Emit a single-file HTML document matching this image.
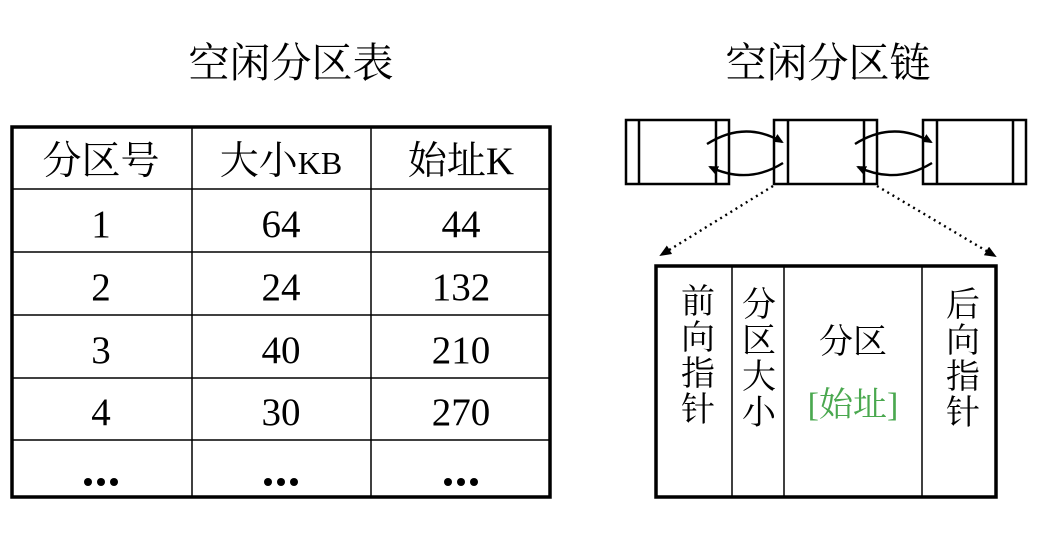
<!DOCTYPE html>
<html><head><meta charset="utf-8"><style>
html,body{margin:0;padding:0;background:#fff;}
svg{display:block;}
text{font-family:"Liberation Serif","Noto Serif CJK SC",serif;fill:#000;}
</style></head><body>
<svg width="1050" height="546" viewBox="0 0 1050 546" xmlns="http://www.w3.org/2000/svg">
<defs>
<marker id="ah" markerWidth="10" markerHeight="9" refX="8" refY="4.5" orient="auto" markerUnits="userSpaceOnUse"><path d="M0,0 L10,4.5 L0,9 z" fill="#000"/></marker>
<marker id="ah2" markerWidth="12" markerHeight="10" refX="10" refY="5" orient="auto" markerUnits="userSpaceOnUse"><path d="M0,0 L12,5 L0,10 z" fill="#000"/></marker>
</defs>
<text x="291" y="77" font-size="41" text-anchor="middle">空闲分区表</text>
<text x="828" y="77" font-size="41" text-anchor="middle">空闲分区链</text>

<g stroke="#000" fill="none">
<rect x="12" y="127" width="538" height="370" stroke-width="3.5"/>
<line x1="192" y1="127" x2="192" y2="497" stroke-width="1.5"/>
<line x1="371" y1="127" x2="371" y2="497" stroke-width="1.5"/>
<line x1="12" y1="189" x2="550" y2="189" stroke-width="1.5"/>
<line x1="12" y1="252" x2="550" y2="252" stroke-width="1.5"/>
<line x1="12" y1="315" x2="550" y2="315" stroke-width="1.5"/>
<line x1="12" y1="378" x2="550" y2="378" stroke-width="1.5"/>
<line x1="12" y1="440" x2="550" y2="440" stroke-width="1.5"/>
</g>
<g font-size="39" text-anchor="middle">
<text x="101" y="174">分区号</text>
<text x="281" y="174">大小<tspan font-size="32">KB</tspan></text>
<text x="461" y="174">始址K</text>
<text x="101" y="237">1</text><text x="281" y="237">64</text><text x="461" y="237">44</text>
<text x="101" y="300">2</text><text x="281" y="300">24</text><text x="461" y="300">132</text>
<text x="101" y="363">3</text><text x="281" y="363">40</text><text x="461" y="363">210</text>
<text x="101" y="425">4</text><text x="281" y="425">30</text><text x="461" y="425">270</text>
</g>
<g fill="#000">
<circle cx="88" cy="482" r="4"/><circle cx="101" cy="482" r="4"/><circle cx="114" cy="482" r="4"/>
<circle cx="268" cy="482" r="4"/><circle cx="281" cy="482" r="4"/><circle cx="294" cy="482" r="4"/>
<circle cx="448" cy="482" r="4"/><circle cx="461" cy="482" r="4"/><circle cx="474" cy="482" r="4"/>
</g>

<g stroke="#000" stroke-width="2.5" fill="none">
<rect x="626" y="120" width="103" height="64"/>
<line x1="639" y1="120" x2="639" y2="184"/><line x1="716" y1="120" x2="716" y2="184"/>
<rect x="774" y="120" width="103" height="64"/>
<line x1="788" y1="120" x2="788" y2="184"/><line x1="864" y1="120" x2="864" y2="184"/>
<rect x="923" y="120" width="103" height="64"/>
<line x1="937" y1="120" x2="937" y2="184"/><line x1="1013" y1="120" x2="1013" y2="184"/>
<path d="M707,144 Q745,120 782,142" stroke-width="2.4" marker-end="url(#ah)"/>
<path d="M783,163 Q748,185 710,167" stroke-width="2.4" marker-end="url(#ah)"/>
<path d="M855,144 Q893,120 931,142" stroke-width="2.4" marker-end="url(#ah)"/>
<path d="M932,163 Q896,185 858,167" stroke-width="2.4" marker-end="url(#ah)"/>
<line x1="773" y1="186" x2="661" y2="255" stroke-width="2.4" stroke-dasharray="2,4" marker-end="url(#ah2)"/>
<line x1="877" y1="186" x2="995" y2="256" stroke-width="2.4" stroke-dasharray="2,4" marker-end="url(#ah2)"/>
<rect x="656" y="266" width="340" height="231" stroke-width="3.5"/>
<line x1="732" y1="266" x2="732" y2="497" stroke-width="1.5"/>
<line x1="784" y1="266" x2="784" y2="497" stroke-width="1.5"/>
<line x1="922" y1="266" x2="922" y2="497" stroke-width="1.5"/>
</g>
<g font-size="34" text-anchor="middle">
<text x="698" y="313">前</text><text x="698" y="349">向</text><text x="698" y="385">指</text><text x="698" y="421">针</text>
<text x="759" y="316">分</text><text x="759" y="352">区</text><text x="759" y="388">大</text><text x="759" y="424">小</text>
<text x="963" y="316">后</text><text x="963" y="352">向</text><text x="963" y="388">指</text><text x="963" y="424">针</text>
<text x="853" y="353">分区</text>
<text x="853" y="416" style="fill:#4aa84f">[始址]</text>
</g>
</svg>
</body></html>
